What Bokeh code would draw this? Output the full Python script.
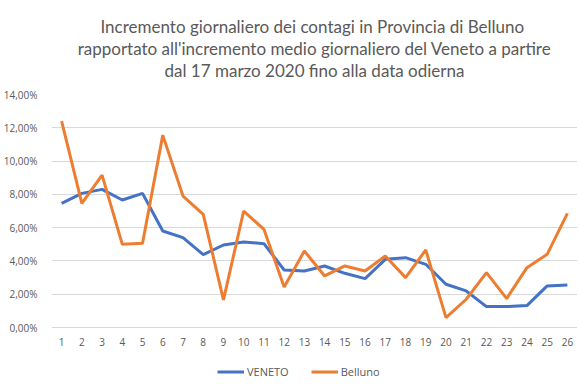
from bokeh.plotting import figure
from bokeh.models import Legend, LegendItem, FixedTicker, ColumnDataSource
from bokeh.core.properties import value
from bokeh.embed import file_html
from bokeh.resources import INLINE

days = list(range(1, 27))
veneto = [7.46, 8.06, 8.30, 7.66, 8.06, 5.80, 5.40, 4.38, 4.96, 5.14, 5.04, 3.46, 3.40,
          3.70, 3.26, 2.94, 4.10, 4.20, 3.80, 2.60, 2.20, 1.26, 1.26, 1.32, 2.50, 2.56]
belluno = [12.40, 7.46, 9.16, 5.00, 5.06, 11.56, 7.90, 6.80, 1.66, 7.00, 5.90, 2.44, 4.60,
           3.10, 3.70, 3.40, 4.30, 3.00, 4.66, 0.60, 1.70, 3.30, 1.74, 3.60, 4.40, 6.86]
day_labels = [str(d) for d in days]
y_ticks = [0, 2, 4, 6, 8, 10, 12, 14]
y_labels = ["0,00%", "2,00%", "4,00%", "6,00%", "8,00%", "10,00%", "12,00%", "14,00%"]
title_lines = ["Incremento giornaliero dei contagi in  Provincia di Belluno",
               "rapportato all'incremento medio giornaliero del Veneto a partire",
               "dal 17 marzo 2020 fino alla data odierna"]

GRAY = "#595959"

p = figure(frame_width=526, frame_height=287, output_backend="svg", toolbar_location=None,
           x_range=(0.5, 26.5), y_range=(-3.24, 14), x_axis_location=None,
           min_border_left=4, min_border_right=0, min_border_top=7, min_border_bottom=0)

p.title.text = "\n".join(title_lines)
p.title.align = "center"
p.title.text_align = "center"
p.title.text_font = "Lato"
p.title.text_font_size = "17px"
p.title.text_font_style = "normal"
p.title.text_color = GRAY
p.title.text_line_height = 1.05
p.title.standoff = 27

r1 = p.line(days, veneto, line_color="#4472C4", line_width=3)
r2 = p.line(days, belluno, line_color="#ED7D31", line_width=3)

# category labels under the 0 line
lab_src = ColumnDataSource(dict(x=days, y=[-0.84] * len(days), t=day_labels))
p.text(x="x", y="y", text="t", source=lab_src, text_align="center", text_baseline="middle",
       text_font=value("Open Sans"), text_font_size="10px", text_color=GRAY)

p.yaxis.ticker = FixedTicker(ticks=y_ticks)
p.yaxis.major_label_overrides = {t: l for t, l in zip(y_ticks, y_labels)}
p.yaxis.axis_line_color = None
p.yaxis.major_tick_line_color = None
p.yaxis.minor_tick_line_color = None
p.yaxis.major_label_text_font = "Open Sans"
p.yaxis.major_label_text_font_size = "10px"
p.yaxis.major_label_text_color = GRAY
p.yaxis.major_label_standoff = 8

p.xgrid.grid_line_color = None
p.ygrid.grid_line_color = "#d9d9d9"
p.ygrid.grid_line_width = 1
p.outline_line_color = None

legend = Legend(items=[LegendItem(label="VENETO", renderers=[r1]),
                       LegendItem(label="Belluno", renderers=[r2])],
                orientation="horizontal", location=(166, 2))
legend.label_text_font = "Open Sans"
legend.label_text_font_size = "11px"
legend.label_text_color = GRAY
legend.label_height = 15
legend.glyph_height = 15
legend.glyph_width = 27
legend.label_standoff = 3
legend.spacing = 22
legend.border_line_color = None
legend.background_fill_alpha = 0
legend.padding = 2
legend.margin = 0
p.add_layout(legend, "center")

open("out.html", "w").write(file_html(p, INLINE))
